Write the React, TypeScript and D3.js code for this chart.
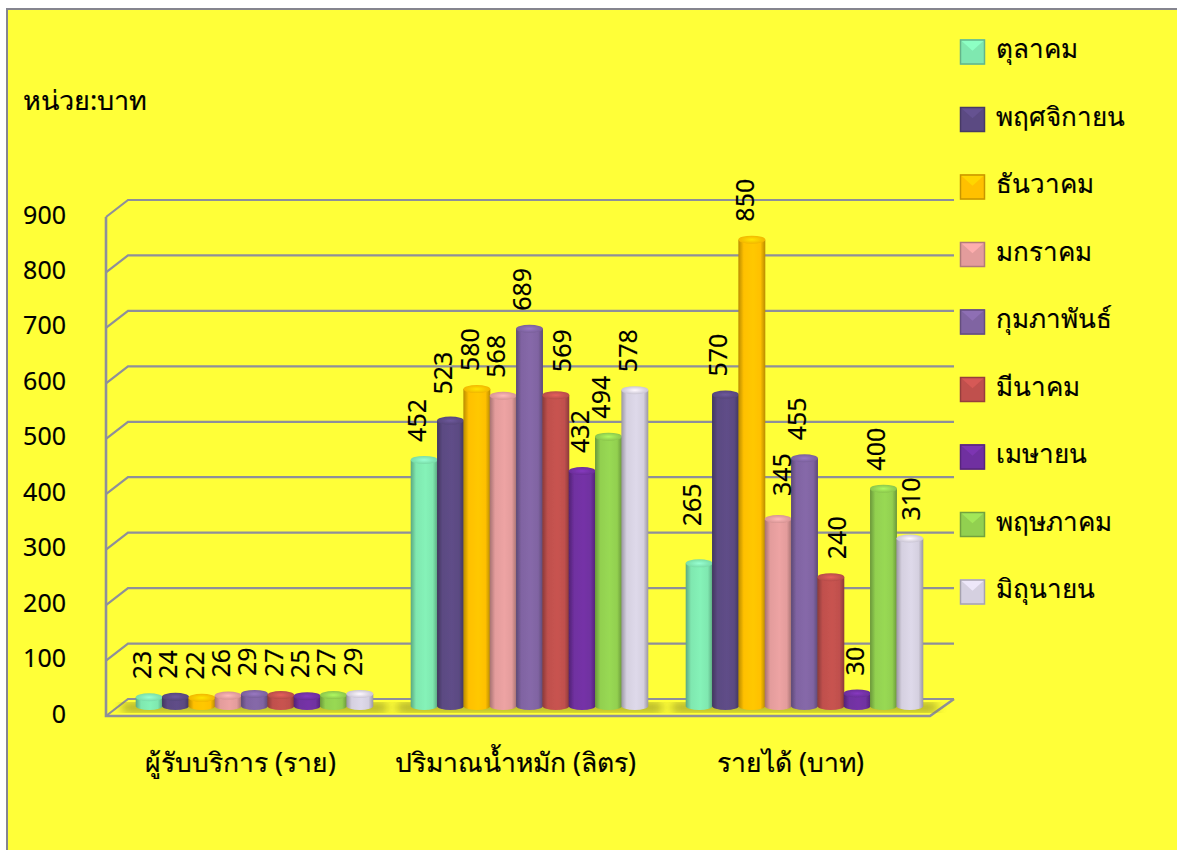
import { useEffect, useRef } from "react";
import * as d3 from "d3";

const months = ["ตุลาคม", "พฤศจิกายน", "ธันวาคม", "มกราคม", "กุมภาพันธ์", "มีนาคม", "เมษายน", "พฤษภาคม", "มิถุนายน"];
const categories = ["ผู้รับบริการ (ราย)", "ปริมาณน้ำหมัก (ลิตร)", "รายได้ (บาท)"];
const customers = [23, 24, 22, 26, 29, 27, 25, 27, 29];
const compost = [452, 523, 580, 568, 689, 569, 432, 494, 578];
const income = [265, 570, 850, 345, 455, 240, 30, 400, 310];
const seriesByCategory = [customers, compost, income];
const colors = ["#7fe8b0", "#5b4a82", "#ffc000", "#e39c9c", "#8064a2", "#c0504d", "#7030a0", "#92d050", "#d5d0e0"];
const yTicks = [0, 100, 200, 300, 400, 500, 600, 700, 800, 900];

// data labels were dragged by hand in the original chart: [dx, dy]
const labelNudge = [
  [[0, 0], [0, 0], [0, 0], [0, 0], [0, 0], [0, 0], [0, 0], [0, 0], [0, 0]],
  [[0, 0], [0, -8], [0, 0], [0, 0], [0, 0], [13, -5], [5, 0], [0, 0], [0, 0]],
  [[0, -19], [0, 0], [0, 0], [11, -5], [0, 0], [13, 0], [5, 0], [0, 0], [8, 0]],
];

const font = "'Noto Sans', 'DejaVu Sans', sans-serif";
const width = 1177;
const height = 850;

export default function App() {
  const svgRef = useRef<SVGSVGElement>(null);

  useEffect(() => {
    const svg = d3.select(svgRef.current);
    svg.selectAll("*").remove();

    const yFront = d3.scaleLinear().domain([0, 900]).range([716, 217]);
    const yBack = d3.scaleLinear().domain([0, 900]).range([699, 200]);
    const yBar = d3.scaleLinear().domain([0, 900]).range([710, 212]);
    const xCat = d3.scaleBand<string>().domain(categories).range([104, 929]);
    const xMonth = d3.scaleBand<string>().domain(months).range([0, 237]);
    const barW = xMonth.bandwidth();
    const depth = 13;
    const barBase = 706;
    const ry = 4;
    const catLeft = (c: string) => (xCat(c) ?? 0) + xCat.bandwidth() / 2 - 118.5 + depth;

    const defs = svg.append("defs");
    defs.append("filter").attr("id", "blur").append("feGaussianBlur").attr("stdDeviation", 5);
    const soft = defs.append("filter").attr("id", "soft");
    soft.append("feGaussianBlur").attr("stdDeviation", 0.5);
    colors.forEach((c, i) => {
      const col = d3.color(c)!;
      const g = defs.append("linearGradient").attr("id", `bar${i}`);
      g.append("stop").attr("offset", "0%").attr("stop-color", col.darker(0.9).formatHex());
      g.append("stop").attr("offset", "20%").attr("stop-color", c);
      g.append("stop").attr("offset", "55%").attr("stop-color", col.brighter(0.12).formatHex());
      g.append("stop").attr("offset", "82%").attr("stop-color", c);
      g.append("stop").attr("offset", "100%").attr("stop-color", col.darker(0.9).formatHex());
      const cap = defs.append("radialGradient").attr("id", `cap${i}`);
      cap.append("stop").attr("offset", "0%").attr("stop-color", col.brighter(0.5).formatHex());
      cap.append("stop").attr("offset", "100%").attr("stop-color", col.darker(0.15).formatHex());
    });

    // background
    svg.append("rect").attr("width", width).attr("height", height).attr("fill", "#fff");
    svg
      .append("rect")
      .attr("x", 7)
      .attr("y", 9)
      .attr("width", width + 20)
      .attr("height", height + 20)
      .attr("fill", "#ffff38")
      .attr("stroke", "#85858f")
      .attr("stroke-width", 2);

    // grid lines
    const grid = "#8e8f9a";
    svg
      .append("g")
      .selectAll("path")
      .data(yTicks)
      .join("path")
      .attr("d", (d) => `M106,${yFront(d)}L128,${yBack(d)}L954,${yBack(d)}`)
      .attr("fill", "none")
      .attr("stroke", grid)
      .attr("stroke-width", 2.2);
    svg
      .append("path")
      .attr("d", `M106,${yFront(900)}L106,${yFront(0)}L930,${yFront(0)}L954,${yBack(0)}`)
      .attr("fill", "none")
      .attr("stroke", grid)
      .attr("stroke-width", 2.6);

    // floor shadow
    categories.forEach((c) => {
      svg
        .append("rect")
        .attr("x", catLeft(c) - 14)
        .attr("y", 703)
        .attr("width", 265)
        .attr("height", 9)
        .attr("fill", "#8f8f20")
        .attr("opacity", 0.8)
        .attr("filter", "url(#blur)");
    });

    // cylinders
    categories.forEach((c, ci) => {
      const g = svg.append("g").attr("transform", `translate(${catLeft(c)},0)`);
      seriesByCategory[ci].forEach((v, i) => {
        const x = xMonth(months[i]) ?? 0;
        const top = yBar(v);
        const rx = barW / 2 + 0.3;
        const cx = x + barW / 2;
        const bar = g.append("g").attr("filter", "url(#soft)");
        bar
          .append("path")
          .attr(
            "d",
            `M${cx - rx},${top}L${cx - rx},${barBase}A${rx},${ry} 0 0 0 ${cx + rx},${barBase}L${cx + rx},${top}Z`
          )
          .attr("fill", `url(#bar${i})`);
        bar
          .append("ellipse")
          .attr("cx", cx)
          .attr("cy", top)
          .attr("rx", rx)
          .attr("ry", ry)
          .attr("fill", `url(#cap${i})`);
      });
    });

    // data labels on top of the bars
    categories.forEach((c, ci) => {
      seriesByCategory[ci].forEach((v, i) => {
        const [dx, dy] = labelNudge[ci][i];
        const lx = catLeft(c) + (xMonth(months[i]) ?? 0) + barW / 2 - 7 + dx;
        const ly = yBar(v) - 18 + dy;
        svg
          .append("text")
          .attr("transform", `translate(${lx},${ly}) rotate(-90)`)
          .attr("dy", "0.35em")
          .attr("font-family", font)
          .attr("font-size", 25)
          .attr("stroke", "#000")
          .attr("stroke-width", 0.15)
          .attr("fill", "#000")
          .text(v);
      });
    });

    // y axis labels
    const axis = svg
      .append("g")
      .attr("transform", "translate(66,-2)")
      .call(d3.axisLeft(yFront).tickValues(yTicks).tickSize(0).tickPadding(0));
    axis.select(".domain").remove();
    axis
      .selectAll("text")
      .attr("font-family", font)
      .attr("font-size", 25)
      .attr("fill", "#000")
      .attr("stroke", "#000")
      .attr("stroke-width", 0.15);

    // category labels
    svg
      .append("g")
      .selectAll("text")
      .data(categories)
      .join("text")
      .attr("x", (d) => (xCat(d) ?? 0) + xCat.bandwidth() / 2 - 1)
      .attr("y", 772)
      .attr("text-anchor", "middle")
      .attr("font-family", font)
      .attr("font-size", 26.5)
      .attr("stroke", "#000")
      .attr("stroke-width", 0.2)
      .text((d) => d);

    svg
      .append("text")
      .attr("x", 23)
      .attr("y", 110)
      .attr("font-family", font)
      .attr("font-size", 27)
      .attr("stroke", "#000")
      .attr("stroke-width", 0.2)
      .text("หน่วย:บาท");

    // legend
    const legendY = d3.scalePoint<string>().domain(months).range([52, 592]);
    const s = 25;
    months.forEach((m, i) => {
      const y = (legendY(m) ?? 0) - s / 2;
      const g = svg.append("g").attr("transform", `translate(960,${y})`);
      const col = d3.color(colors[i])!;
      g.append("rect").attr("width", s).attr("height", s).attr("fill", colors[i]);
      g.append("path").attr("d", `M0,0L${s},0L${s / 2},${s * 0.45}Z`).attr("fill", col.brighter(0.3).formatHex());
      g.append("rect")
        .attr("x", 0.5)
        .attr("y", 0.5)
        .attr("width", s - 1)
        .attr("height", s - 1)
        .attr("fill", "none")
        .attr("stroke", col.darker(0.7).formatHex())
        .attr("stroke-width", 1.5);
      svg
        .append("text")
        .attr("x", 996)
        .attr("y", (legendY(m) ?? 0) + 6)
        .attr("font-family", font)
        .attr("font-size", 26)
        .attr("stroke", "#000")
        .attr("stroke-width", 0.2)
        .text(m);
    });
  }, []);

  return (
    <svg
      ref={svgRef}
      width={width}
      height={height}
      viewBox={`0 0 ${width} ${height}`}
      style={{ position: "absolute", left: 0, top: 0, display: "block" }}
    />
  );
}
